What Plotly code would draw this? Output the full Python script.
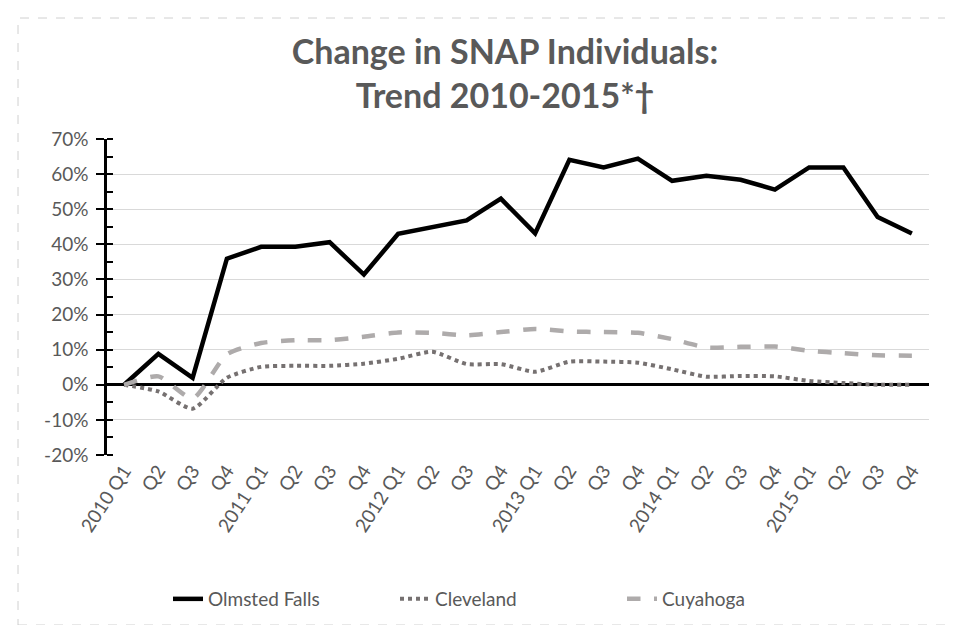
import plotly.graph_objects as go

quarters = ["2010 Q1", "Q2", "Q3", "Q4", "2011 Q1", "Q2", "Q3", "Q4",
            "2012 Q1", "Q2", "Q3", "Q4", "2013 Q1", "Q2", "Q3", "Q4",
            "2014 Q1", "Q2", "Q3", "Q4", "2015 Q1", "Q2", "Q3", "Q4"]

olmsted_falls = [0, 8.8, 2.0, 35.9, 39.3, 39.3, 40.6, 31.4,
                 43.0, 44.9, 46.8, 53.0, 43.1, 64.1, 61.9, 64.4,
                 58.1, 59.5, 58.4, 55.6, 61.9, 61.9, 47.8, 43.1]
cleveland = [0, -1.9, -6.8, 2.0, 5.1, 5.4, 5.4, 6.0,
             7.4, 9.4, 5.9, 5.9, 3.7, 6.6, 6.6, 6.3,
             4.4, 2.3, 2.5, 2.4, 1.1, 0.5, 0.0, 0.0]
cuyahoga = [0, 2.4, -3.9, 8.7, 11.9, 12.7, 12.7, 13.7,
            14.9, 14.8, 14.1, 15.0, 15.9, 15.2, 15.0, 14.8,
            13.0, 10.6, 10.8, 10.9, 9.7, 9.0, 8.4, 8.3]

y_ticks = list(range(-20, 71, 10))

x = list(range(len(quarters)))

fig = go.Figure()
fig.add_trace(go.Scatter(x=x, y=olmsted_falls, name="Olmsted Falls", mode="lines",
                         line=dict(color="#000000", width=4.5)))
fig.add_trace(go.Scatter(x=x, y=cleveland, name="Cleveland", mode="lines",
                         line=dict(color="#767171", width=4, dash="dot", shape="spline", smoothing=0.6)))
fig.add_trace(go.Scatter(x=x, y=cuyahoga, name="Cuyahoga", mode="lines",
                         line=dict(color="#AEABAB", width=4.5, dash="dash", shape="spline", smoothing=0.6)))

L, R, T, B = 99, 921, 131, 447
W, H = 953, 625

def px(xp):
    return (xp - L) / (R - L)

def py(yp):
    return (B - yp) / (B - T)

fig.add_shape(type="rect", xref="paper", yref="paper",
              x0=px(10), x1=px(945), y0=py(617), y1=py(10),
              line=dict(color="#D0D0D0", width=1, dash="dash"), layer="below")

font_family = "Lato, 'Open Sans', sans-serif"

fig.update_layout(
    width=W, height=H,
    margin=dict(l=L, r=W - R, t=T, b=H - B),
    paper_bgcolor="white", plot_bgcolor="white",
    title=dict(text="<b>Change in SNAP Individuals:<br>Trend 2010-2015*†</b>",
               x=497 / W, xref="container", xanchor="center",
               y=1 - 56 / H, yref="container", yanchor="middle",
               font=dict(family=font_family, size=34, color="#595959")),
    font=dict(family=font_family, color="#595959"),
    showlegend=True,
    legend=dict(orientation="h", x=160 / W, xanchor="left", xref="container",
                y=1 - 591 / H, yref="container", yanchor="middle",
                font=dict(size=19, color="#595959"), entrywidth=182, entrywidthmode="pixels"),
    xaxis=dict(range=[-0.5, len(quarters) - 0.5], tickmode="array", tickvals=x, ticktext=quarters,
               tickangle=-57, showgrid=False, zeroline=False, showline=False,
               tickfont=dict(size=19, color="#595959"), ticks=""),
    yaxis=dict(range=[-20, 70], tickmode="array", tickvals=y_ticks,
               ticktext=[f"{v}%" for v in y_ticks],
               showgrid=True, gridcolor="#D9D9D9", gridwidth=1,
               zeroline=True, zerolinecolor="#000000", zerolinewidth=2.5,
               showline=True, linecolor="#000000", linewidth=2.5,
               ticks="outside", ticklen=8, tickwidth=2, tickcolor="#000000",
               minor=dict(dtick=5, tick0=0, ticks="inside", ticklen=6, tickwidth=2, tickcolor="#000000", showgrid=False),
               tickfont=dict(size=19, color="#595959"), ticklabelstandoff=4),
)

fig.write_html("out.html")
